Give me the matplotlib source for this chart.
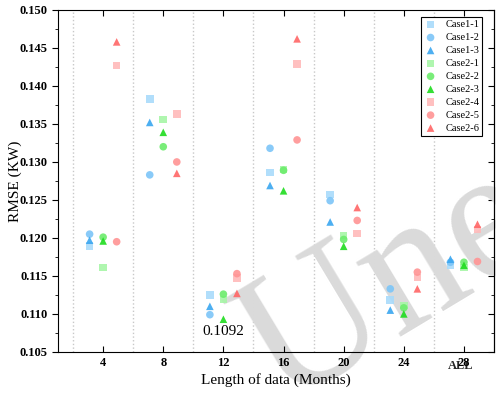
import matplotlib
matplotlib.use("Agg")
import matplotlib.pyplot as plt
from matplotlib.ticker import MultipleLocator

plt.rcParams['font.family'] = ['Liberation Serif', 'DejaVu Serif']

# data lengths (months), ALL drawn at 28 like the original
groups      = [4, 8, 12, 16, 20, 24, 28]
case_names  = ["Case1-1", "Case1-2", "Case1-3",
               "Case2-1", "Case2-2", "Case2-3",
               "Case2-4", "Case2-5", "Case2-6"]

case1_1 = [0.1189, 0.1383, 0.1125, 0.1286, 0.1257, 0.1118, 0.1164]
case1_2 = [0.1205, 0.1283, 0.1099, 0.1318, 0.1249, 0.1133, 0.1168]
case1_3 = [0.1197, 0.1352, 0.1110, 0.1269, 0.1221, 0.1105, 0.1172]
case2_1 = [0.1161, 0.1356, 0.1119, 0.1290, 0.1203, 0.1111, 0.1161]
case2_2 = [0.1201, 0.1320, 0.1126, 0.1289, 0.1198, 0.1108, 0.1168]
case2_3 = [0.1196, 0.1339, 0.1093, 0.1262, 0.1189, 0.1100, 0.1164]
case2_4 = [0.1427, 0.1363, 0.1147, 0.1429, 0.1206, 0.1148, 0.1211]
case2_5 = [0.1195, 0.1300, 0.1153, 0.1329, 0.1223, 0.1155, 0.1169]
case2_6 = [0.1458, 0.1285, 0.1127, 0.1462, 0.1240, 0.1133, 0.1218]

series  = [case1_1, case1_2, case1_3, case2_1, case2_2, case2_3, case2_4, case2_5, case2_6]
offsets = [-0.9, -0.9, -0.9, 0, 0, 0, 0.9, 0.9, 0.9]
markers = ["s", "o", "^"] * 3
colors  = ["#a9dbfb", "#7cc5f8", "#3aa6f0",
           "#a6f5a6", "#6cec6c", "#1fdc1f",
           "#ffbaba", "#ff9494", "#ff6666"]

fig = plt.figure(figsize=(4.96, 3.99), dpi=100)
ax  = fig.add_axes([0.117, 0.118, 0.879, 0.857])

for vals, off, m, c, name in zip(series, offsets, markers, colors, case_names):
    ax.scatter([g + off for g in groups], vals, marker=m, s=30, color=c,
               edgecolors="none", alpha=0.9, zorder=3, label=name)

for xv in range(2, 27, 4):
    ax.axvline(xv, color="#c8c8c8", linestyle=":", linewidth=1.0, zorder=0)

ax.text(12.0, 0.1077, "0.1092", ha="center", va="center", fontsize=11, zorder=4)

# watermark
ax.text(0.765, 0.19, "Une", transform=ax.transAxes, fontsize=135, color="#dadada",
        rotation=31, ha="center", va="center", zorder=1, clip_on=False)

ax.set_xlim(1, 30)
ax.set_ylim(0.105, 0.150)
ax.set_xticks(groups)
ax.set_xticklabels([str(g) for g in groups], fontweight="bold", fontsize=9)
ax.text(27.8, -0.025, "ALL", transform=ax.get_xaxis_transform(), ha="center",
        va="top", fontsize=9, fontweight="bold", alpha=0.85)
ax.yaxis.set_major_locator(MultipleLocator(0.005))
ax.yaxis.set_minor_locator(MultipleLocator(0.0025))
ax.yaxis.set_major_formatter(plt.FormatStrFormatter("%.3f"))
for lab in ax.get_yticklabels():
    lab.set_fontweight("bold")
    lab.set_fontsize(9)

ax.tick_params(axis="y", which="major", direction="out", length=4, left=True, right=False)
ax.tick_params(axis="y", which="minor", direction="out", length=2.5, left=True, right=False)
ax.tick_params(axis="x", which="major", direction="in", length=4, top=True)
ax2 = ax.secondary_yaxis("right")
ax2.yaxis.set_major_locator(MultipleLocator(0.005))
ax2.yaxis.set_minor_locator(MultipleLocator(0.0025))
ax2.tick_params(which="major", direction="in", length=4, labelright=False)
ax2.tick_params(which="minor", direction="in", length=2.5)

ax.set_xlabel("Length of data (Months)", fontsize=11, labelpad=3)
ax.set_ylabel("RMSE (KW)", fontsize=11)
ax.yaxis.set_label_coords(-0.083, 0.5)

leg = ax.legend(loc="upper right", fontsize=7.5, frameon=True, fancybox=False,
                edgecolor="black", framealpha=1, borderpad=0.3, labelspacing=0.35,
                handletextpad=0.8, handlelength=1.2, markerscale=1.0,
                bbox_to_anchor=(0.985, 0.995))
leg.get_frame().set_linewidth(0.8)

fig.savefig("out.png", dpi=100)
